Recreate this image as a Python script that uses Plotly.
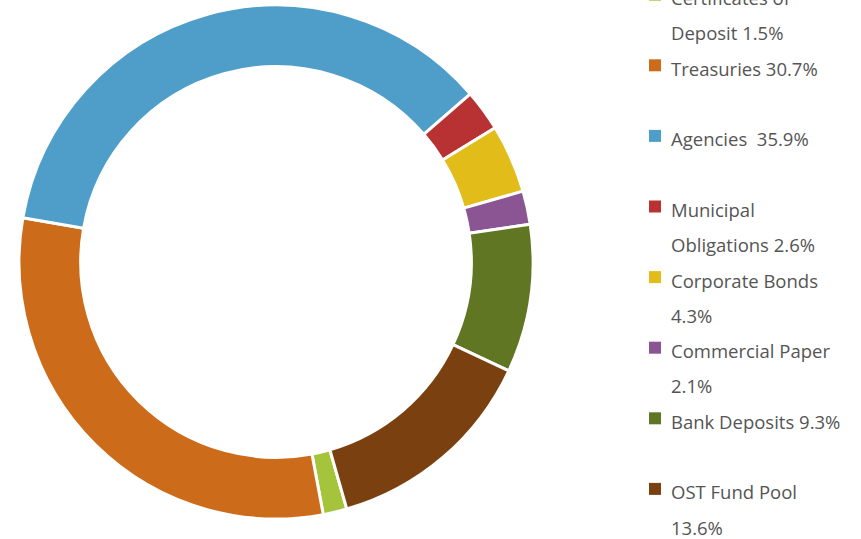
import plotly.graph_objects as go

labels = ["Certificates of Deposit", "Treasuries", "Agencies", "Municipal Obligations",
          "Corporate Bonds", "Commercial Paper", "Bank Deposits", "OST Fund Pool"]
values = [1.5, 30.7, 35.9, 2.6, 4.3, 2.1, 9.3, 13.6]
colors = ["#a4c43c", "#cc6c1a", "#4e9ec9", "#b83233", "#e2bd1a", "#8a5592", "#617623", "#7a4010"]
# legend text lines per item (as wrapped in the reference)
legend_lines = [
    ["Certificates of", "Deposit 1.5%"],
    ["Treasuries 30.7%", ""],
    ["Agencies  35.9%", ""],
    ["Municipal", "Obligations 2.6%"],
    ["Corporate Bonds", "4.3%"],
    ["Commercial Paper", "2.1%"],
    ["Bank Deposits 9.3%", ""],
    ["OST Fund Pool", "13.6%"],
]

W, H = 861, 539
cx, cy, R = 276, 262, 257

fig = go.Figure(go.Pie(
    labels=labels, values=values, sort=False, direction="clockwise", rotation=164,
    hole=0.76, marker=dict(colors=colors, line=dict(color="white", width=3)),
    textinfo="none", showlegend=False,
    domain=dict(x=[(cx - R) / W, (cx + R) / W], y=[(H - cy - R) / H, (H - cy + R) / H]),
))

annotations = []
shapes = []
line_h = 35.3
y0 = -2.3
tx = 669
for i, (lines, col) in enumerate(zip(legend_lines, colors)):
    for j, t in enumerate(lines):
        if not t:
            continue
        ypix = y0 + line_h * (2 * i + j)
        annotations.append(dict(
            x=tx / W, y=1 - ypix / H, xref="paper", yref="paper", text=t,
            showarrow=False, xanchor="left", yanchor="middle",
            font=dict(family="Open Sans", size=18.5, color="#555555")))
    ym = y0 + line_h * (2 * i) - 3
    shapes.append(dict(type="rect", xref="paper", yref="paper",
                       x0=649 / W, x1=661 / W, y0=1 - (ym - 6) / H, y1=1 - (ym + 6) / H,
                       fillcolor=col, line=dict(width=0)))

fig.update_layout(width=W, height=H, margin=dict(l=0, r=0, t=0, b=0),
                  paper_bgcolor="white", plot_bgcolor="white",
                  annotations=annotations, shapes=shapes)
fig.write_html("out.html", config={"displayModeBar": False},
               post_script="document.body.style.margin='0px';document.body.style.overflow='hidden';")
